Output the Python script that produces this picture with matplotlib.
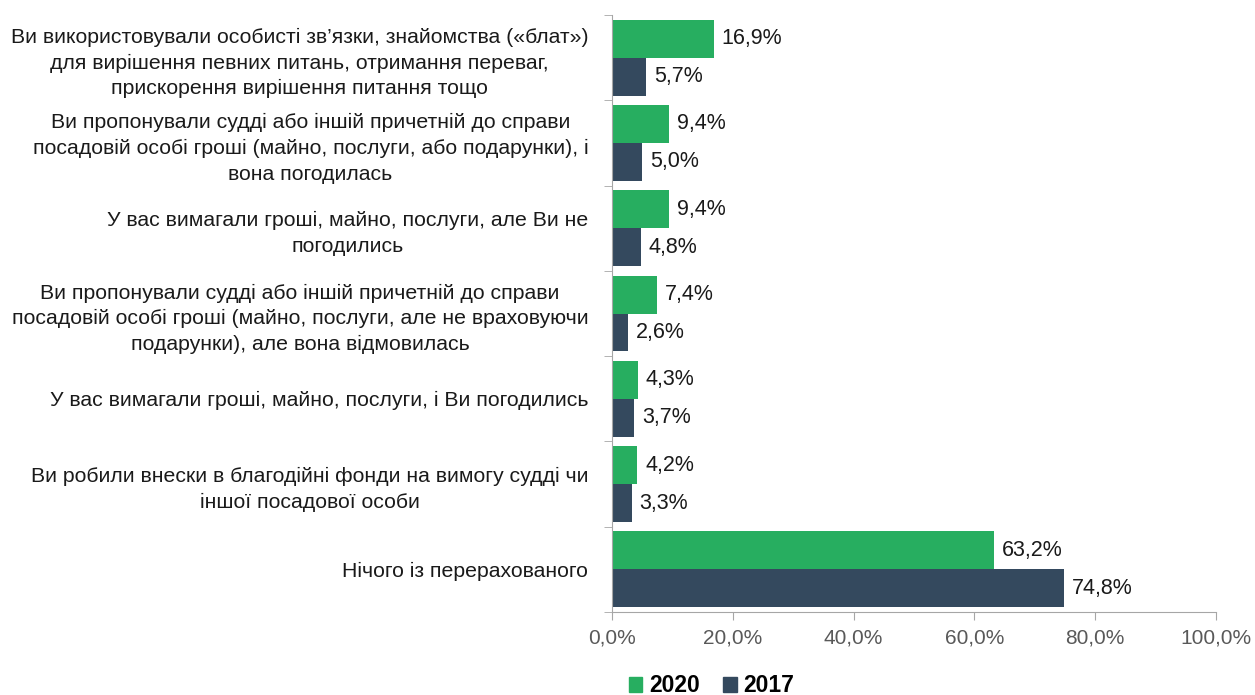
import numpy as np
import matplotlib.pyplot as plt
from matplotlib.ticker import FixedLocator
from matplotlib.patches import Patch

plt.rcParams['font.family'] = ['Liberation Sans', 'DejaVu Sans']

categories = [
    'Ви використовували особисті зв’язки, знайомства («блат»)\nдля вирішення певних питань, отримання переваг,\nприскорення вирішення питання тощо',
    'Ви пропонували судді або іншій причетній до справи\nпосадовій особі гроші (майно, послуги, або подарунки), і\nвона погодилась',
    'У вас вимагали гроші, майно, послуги, але Ви не\nпогодились',
    'Ви пропонували судді або іншій причетній до справи\nпосадовій особі гроші (майно, послуги, але не враховуючи\nподарунки), але вона відмовилась',
    'У вас вимагали гроші, майно, послуги, і Ви погодились',
    'Ви робили внески в благодійні фонди на вимогу судді чи\nіншої посадової особи',
    'Нічого із перерахованого',
]
values_2020 = [16.9, 9.4, 9.4, 7.4, 4.3, 4.2, 63.2]
values_2017 = [5.7, 5.0, 4.8, 2.6, 3.7, 3.3, 74.8]
x_ticks = [0, 20, 40, 60, 80, 100]

green = '#27ae60'
navy = '#34495e'
axis_grey = '#a6a6a6'

fig = plt.figure(figsize=(12.55, 6.95), dpi=100)
ax = fig.add_axes([0.4876, 0.1194, 0.4813, 0.8590])

y = np.arange(len(categories))
h = 0.445
ax.barh(y - h / 2, values_2020, height=h, color=green)
ax.barh(y + h / 2, values_2017, height=h, color=navy)

for yi, v in zip(y, values_2020):
    ax.text(v + 1.3, yi - h / 2, f'{v:.1f}%'.replace('.', ','), va='center',
            ha='left', fontsize=15.5, color='#1a1a1a')
for yi, v in zip(y, values_2017):
    ax.text(v + 1.3, yi + h / 2, f'{v:.1f}%'.replace('.', ','), va='center',
            ha='left', fontsize=15.5, color='#1a1a1a')

ax.set_ylim(len(categories) - 0.5, -0.5)
ax.set_xlim(0, 100)
ax.set_yticks(y)
ax.set_yticklabels(categories, fontsize=15.3, color='#1a1a1a',
                   multialignment='center', linespacing=1.45)
ax.yaxis.set_minor_locator(FixedLocator(np.arange(-0.5, len(categories), 1)))
ax.tick_params(axis='y', which='major', length=0, pad=17)
ax.tick_params(axis='y', which='minor', length=6, color=axis_grey)

ax.set_xticks(x_ticks)
ax.set_xticklabels([f'{t:.1f}%'.replace('.', ',') for t in x_ticks],
                   fontsize=15, color='#595959')
ax.tick_params(axis='x', length=6, color=axis_grey, pad=6)

for side in ['top', 'right']:
    ax.spines[side].set_visible(False)
ax.spines['left'].set_color(axis_grey)
ax.spines['bottom'].set_color(axis_grey)

handles = [Patch(color=green, label='2020'), Patch(color=navy, label='2017')]
fig.legend(handles=handles, loc='center', bbox_to_anchor=(0.567, 0.013),
           ncol=2, frameon=False, prop={'weight': 'bold', 'size': 16.5},
           handlelength=0.6, handleheight=0.6, handletextpad=0.3,
           columnspacing=1.0, borderpad=0.1)

fig.savefig('out.png', dpi=100)
